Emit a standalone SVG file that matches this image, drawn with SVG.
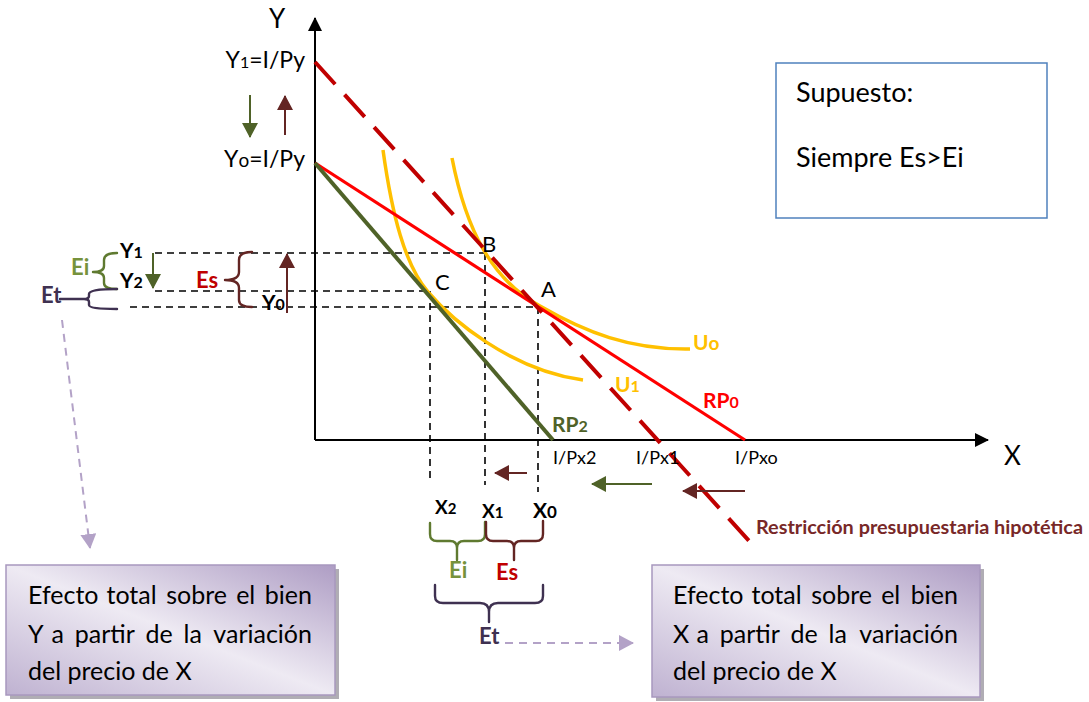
<svg xmlns="http://www.w3.org/2000/svg" width="1089" height="702" viewBox="0 0 1089 702">
<defs>
<style>
text{font-family:Lato,"Liberation Sans",sans-serif;fill:#000}
.b{font-weight:bold}
.dash{stroke:#000;stroke-width:1.6;stroke-dasharray:7 5;fill:none}
.brace{fill:none;stroke-width:2.4;stroke-linecap:round;stroke-linejoin:round}
.grn{fill:#76923C}
.red{fill:#C00000}
.pur{fill:#3F3151}
.box{fill:url(#boxg);stroke:#A898BE;stroke-width:1.5}
.shadow{fill:#8E8A94;opacity:0.7}
.bt{font-size:25px}
.m{text-anchor:middle}
.e{text-anchor:end}
</style>
<linearGradient id="boxg" x1="1" y1="0" x2="0" y2="1">
<stop offset="0" stop-color="#AE9DC4"/>
<stop offset="0.5" stop-color="#EEEAF3"/>
<stop offset="1" stop-color="#BFB2D1"/>
</linearGradient>
<marker id="ahK" viewBox="0 0 14 14" refX="13" refY="7" markerWidth="14" markerHeight="14" markerUnits="userSpaceOnUse" orient="auto"><path d="M0,0 L14,7 L0,14 z" fill="#000"/></marker>
<marker id="ahG" viewBox="0 0 15 16" refX="14" refY="8" markerWidth="15" markerHeight="16" markerUnits="userSpaceOnUse" orient="auto"><path d="M0,0 L15,8 L0,16 z" fill="#4F6228"/></marker>
<marker id="ahM" viewBox="0 0 15 16" refX="14" refY="8" markerWidth="15" markerHeight="16" markerUnits="userSpaceOnUse" orient="auto"><path d="M0,0 L15,8 L0,16 z" fill="#632523"/></marker>
<marker id="ahL" viewBox="0 0 15 16" refX="14" refY="8" markerWidth="15" markerHeight="16" markerUnits="userSpaceOnUse" orient="auto"><path d="M0,0 L15,8 L0,16 z" fill="#B3A2C7"/></marker>
</defs>

<g id="axes">
<line x1="315" y1="440" x2="315" y2="18" stroke="#000" stroke-width="2" marker-end="url(#ahK)"/>
<line x1="315" y1="440" x2="988" y2="440" stroke="#000" stroke-width="2" marker-end="url(#ahK)"/>
<text x="269" y="28" font-size="26">Y</text>
<text x="1004" y="465" font-size="26">X</text>
</g>

<g id="guides">
<line class="dash" x1="155" y1="253" x2="485" y2="253"/>
<line class="dash" x1="155" y1="291" x2="430" y2="291"/>
<line class="dash" x1="130" y1="307" x2="538" y2="307"/>
<line class="dash" x1="430" y1="291" x2="430" y2="478"/>
<line class="dash" x1="485" y1="253" x2="485" y2="485"/>
<line class="dash" x1="538" y1="307" x2="538" y2="492"/>
</g>

<g id="curves">
<path id="U0" d="M452,158 C466,230 492,280 540,306 C585,332 630,350 690,349" fill="none" stroke="#FFC000" stroke-width="3.5"/>
<path id="U1" d="M383,150 C392,215 405,265 428,292 C451,319 510,370 583,380" fill="none" stroke="#FFC000" stroke-width="3.5"/>
<line id="RP0" x1="315" y1="163" x2="745" y2="440" stroke="#FF0000" stroke-width="3.2"/>
<line id="RP2" x1="315" y1="163" x2="553" y2="440" stroke="#4F6228" stroke-width="4"/>
<line id="RPh" x1="315" y1="62" x2="750" y2="542" stroke="#C00000" stroke-width="4" stroke-dasharray="30 14"/>
</g>

<g id="connectors">
<line x1="250" y1="95" x2="250" y2="137" stroke="#4F6228" stroke-width="2" marker-end="url(#ahG)"/>
<line x1="285" y1="135" x2="285" y2="96" stroke="#632523" stroke-width="2" marker-end="url(#ahM)"/>
<line x1="153" y1="253" x2="153" y2="288" stroke="#4F6228" stroke-width="2" marker-end="url(#ahG)"/>
<line x1="287" y1="313" x2="287" y2="254" stroke="#632523" stroke-width="2" marker-end="url(#ahM)"/>
<line x1="527" y1="473" x2="495" y2="473" stroke="#632523" stroke-width="2" marker-end="url(#ahM)"/>
<line x1="652" y1="484" x2="592" y2="484" stroke="#4F6228" stroke-width="2" marker-end="url(#ahG)"/>
<line x1="745" y1="491" x2="683" y2="491" stroke="#632523" stroke-width="2" marker-end="url(#ahM)"/>
<line x1="62" y1="320" x2="90" y2="548" stroke="#B3A2C7" stroke-width="2" stroke-dasharray="8 6" marker-end="url(#ahL)"/>
<line x1="505" y1="643" x2="633" y2="643" stroke="#B3A2C7" stroke-width="2" stroke-dasharray="8 6" marker-end="url(#ahL)"/>
</g>

<g id="braces">
<path class="brace" stroke="#5F7A30" d="M117,253 Q104,253 104,260 L104,266 Q104,272 93,272 Q104,272 104,278 L104,283 Q104,289 117,289"/>
<path class="brace" stroke="#3F3151" stroke-width="2.8" d="M60,299 L84,299 M117,289 Q89,289 89,294 L89,296 Q89,299 84,299 Q89,299 89,302 L89,305 Q89,309 117,309"/>
<path class="brace" stroke="#632523" d="M252,252 Q239,252 239,260 L239,272 Q239,280 225,280 Q239,280 239,288 L239,300 Q239,307 252,307"/>
<path class="brace" stroke="#5F7A30" d="M430,523 L430,534 Q430,541 437,541 L450,541 Q457,541 457,548 L457,560 L457,548 Q457,541 464,541 L478,541 Q485,541 485,534 L485,522"/>
<path class="brace" stroke="#632523" d="M486,522 L486,534 Q486,541 493,541 L507,541 Q514,541 514,548 L514,560 L514,548 Q514,541 521,541 L536,541 Q543,541 543,534 L543,521"/>
<path class="brace" stroke="#3F3151" stroke-width="2.8" d="M435,585 L435,596 Q435,603 443,603 L480,603 Q489,603 489,612 L489,622 L489,612 Q489,603 498,603 L535,603 Q543,603 543,596 L543,585"/>
</g>

<g id="labels">
<text x="305" y="68" class="e" font-size="23">Y<tspan font-size="16">1</tspan>=I/Py</text>
<text x="305" y="167" class="e" font-size="23">Y<tspan font-size="19">o</tspan>=I/Py</text>
<text x="120" y="258" class="b" font-size="21">Y<tspan font-size="16">1</tspan></text>
<text x="120" y="288" class="b" font-size="21">Y<tspan font-size="16">2</tspan></text>
<text x="262" y="310" class="b" font-size="21">Y<tspan font-size="16">0</tspan></text>
<text x="71" y="275" class="b grn" font-size="22">Ei</text>
<text x="41" y="303" class="b pur" font-size="22">Et</text>
<text x="196" y="288" class="b red" font-size="22">Es</text>
<text x="482" y="252" font-size="22">B</text>
<text x="435" y="290" font-size="22">C</text>
<text x="541" y="297" font-size="22">A</text>
<text x="693" y="350" class="b" font-size="21" style="fill:#FFC000">U<tspan font-size="19">o</tspan></text>
<text x="615" y="392" class="b" font-size="21" style="fill:#FFC000">U<tspan font-size="16">1</tspan></text>
<text x="703" y="408" class="b" font-size="21" style="fill:#FF0000">RP<tspan font-size="16">0</tspan></text>
<text x="552" y="432" class="b" font-size="21" style="fill:#4F6228">RP<tspan font-size="16">2</tspan></text>
<text x="553" y="464" font-size="18">I/Px2</text>
<text x="636" y="464" font-size="18">I/Px1</text>
<text x="735" y="464" font-size="18">I/Pxo</text>
<text x="435" y="514" class="b" font-size="19">X<tspan font-size="15">2</tspan></text>
<text x="482" y="518" class="b" font-size="19">X<tspan font-size="15">1</tspan></text>
<text x="533" y="518" class="b" font-size="21">X<tspan font-size="17">0</tspan></text>
<text x="449" y="578" class="b grn" font-size="22">Ei</text>
<text x="496" y="580" class="b red" font-size="22">Es</text>
<text x="479" y="644" class="b pur" font-size="22">Et</text>
<text x="756" y="534" class="b" font-size="18" style="fill:#782828" textLength="327" lengthAdjust="spacingAndGlyphs">Restricción presupuestaria hipotética</text>
</g>

<g id="supuesto">
<rect x="776" y="63" width="271" height="155" fill="#fff" stroke="#4F81BD" stroke-width="1.5"/>
<text x="796" y="102" font-size="27">Supuesto:</text>
<text x="796" y="167" font-size="27">Siempre Es&gt;Ei</text>
</g>

<g id="boxY">
<rect class="shadow" x="10" y="569" width="329" height="130"/>
<rect class="box" x="6" y="565" width="329" height="130"/>
<text class="bt" y="604"><tspan x="28">Efecto</tspan><tspan class="m" x="131.6">total</tspan><tspan class="m" x="196.6">sobre</tspan><tspan class="m" x="245.7">el</tspan><tspan class="e" x="312">bien</tspan></text>
<text class="bt" y="643"><tspan x="28">Y</tspan><tspan class="m" x="57.7">a</tspan><tspan class="m" x="104.8">partir</tspan><tspan class="m" x="159.2">de</tspan><tspan class="m" x="192.7">la</tspan><tspan class="e" x="312">variación</tspan></text>
<text class="bt" x="28" y="680">del precio de X</text>
</g>

<g id="boxX">
<rect class="shadow" x="656" y="569" width="328" height="132"/>
<rect class="box" x="652" y="565" width="328" height="132"/>
<text class="bt" y="604"><tspan x="673">Efecto</tspan><tspan class="m" x="776.6">total</tspan><tspan class="m" x="841.6">sobre</tspan><tspan class="m" x="890.7">el</tspan><tspan class="e" x="958">bien</tspan></text>
<text class="bt" y="643"><tspan x="673">X</tspan><tspan class="m" x="702.7">a</tspan><tspan class="m" x="749.8">partir</tspan><tspan class="m" x="804.2">de</tspan><tspan class="m" x="837.7">la</tspan><tspan class="e" x="958">variación</tspan></text>
<text class="bt" x="673" y="680">del precio de X</text>
</g>
</svg>
